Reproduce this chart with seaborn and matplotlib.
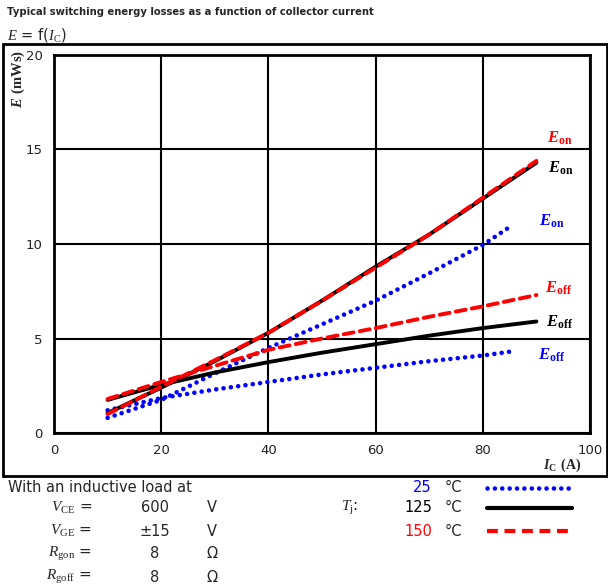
import matplotlib
matplotlib.use("Agg")
import matplotlib.pyplot as plt
from matplotlib.lines import Line2D
from matplotlib.patches import Rectangle
import seaborn as sns
import pandas as pd

# ---- data ----
ic_25 = [10, 20, 30, 40, 50, 60, 70, 80, 85]
eon_25 = [0.8, 1.75, 3.15, 4.5, 5.75, 7.0, 8.45, 9.95, 10.9]
eoff_25 = [1.2, 1.85, 2.3, 2.7, 3.1, 3.45, 3.8, 4.1, 4.3]

ic_125 = [10, 20, 30, 40, 50, 60, 70, 80, 90]
eon_125 = [1.05, 2.4, 3.8, 5.3, 7.0, 8.8, 10.5, 12.4, 14.3]
eoff_125 = [1.75, 2.55, 3.2, 3.75, 4.25, 4.7, 5.15, 5.55, 5.9]

ic_150 = [10, 20, 30, 40, 50, 60, 70, 80, 90]
eon_150 = [1.0, 2.45, 3.85, 5.3, 7.0, 8.75, 10.5, 12.45, 14.4]
eoff_150 = [1.8, 2.7, 3.55, 4.4, 5.0, 5.55, 6.15, 6.7, 7.3]

x_ticks = [0, 20, 40, 60, 80, 100]
y_ticks = [0, 5, 10, 15, 20]

sns.set_theme(style="white")
plt.rcParams["font.family"] = ["DejaVu Sans"]
plt.rcParams["mathtext.fontset"] = "custom"
plt.rcParams["mathtext.rm"] = "Liberation Serif"
plt.rcParams["mathtext.it"] = "Liberation Serif:italic"
plt.rcParams["mathtext.bf"] = "Liberation Serif:bold"
plt.rcParams["mathtext.bfit"] = "Liberation Serif:italic:bold"

W, H = 608, 588
fig = plt.figure(figsize=(W / 100, H / 100), dpi=100)


def fx(px):
    return px / W


def fy(py):
    return 1 - py / H


ax = fig.add_axes([fx(54), fy(433), fx(590) - fx(54), fy(55) - fy(433)])

blue, black, red = "#0000FF", "#000000", "#FF0000"
dot = (0, (0.01, 1.6))
dash = (0, (2.6, 1.6))

series = [
    (ic_25, eon_25, blue, dot, 3.3),
    (ic_25, eoff_25, blue, dot, 3.3),
    (ic_125, eon_125, black, "-", 2.8),
    (ic_125, eoff_125, black, "-", 2.8),
    (ic_150, eon_150, red, dash, 2.8),
    (ic_150, eoff_150, red, dash, 2.8),
]
for xs, ys, c, ls, lw in series:
    df = pd.DataFrame({"Ic": xs, "E": ys})
    sns.lineplot(data=df, x="Ic", y="E", ax=ax, color=c, linestyle=ls,
                 linewidth=lw, dash_capstyle="round", solid_capstyle="round")

ax.set_xlim(0, 100)
ax.set_ylim(0, 20)
ax.set_xticks(x_ticks)
ax.set_yticks(y_ticks)
ax.grid(True, color="black", linewidth=1.5)
ax.set_axisbelow(True)
for s in ax.spines.values():
    s.set_color("black")
    s.set_linewidth(2)
ax.tick_params(axis="both", labelsize=9.5, colors="#222222", length=0, pad=8)
ax.set_xlabel("")
ax.set_ylabel("")

# series labels
lab_fs = 12
ax_texts = [
    (547, 138, r"$\mathbfit{E}_\mathbf{on}$", red),
    (548, 168, r"$\mathbfit{E}_\mathbf{on}$", black),
    (539, 221, r"$\mathbfit{E}_\mathbf{on}$", blue),
    (545, 288, r"$\mathbfit{E}_\mathbf{off}$", red),
    (546, 322, r"$\mathbfit{E}_\mathbf{off}$", black),
    (538, 355, r"$\mathbfit{E}_\mathbf{off}$", blue),
]
for px, py, t, c in ax_texts:
    fig.text(fx(px), fy(py), t, color=c, fontsize=lab_fs, ha="left", va="center")

# outer frame
fig.add_artist(Rectangle((fx(3), fy(476)), fx(607) - fx(3), fy(44) - fy(476),
                         transform=fig.transFigure, fill=False,
                         edgecolor="black", linewidth=2))

# titles
fig.text(fx(7), fy(12), "Typical switching energy losses as a function of collector current",
         fontsize=7.2, fontweight="bold", ha="left", va="center")
fig.text(fx(7), fy(35), r"$E$ = f($I_\mathrm{C}$)", fontsize=10.5, ha="left", va="center")

# axis labels
fig.text(fx(18), fy(50), r"$\mathbfit{E}$ $\mathbf{(mWs)}$", fontsize=10.5,
         rotation=90, ha="center", va="top")
fig.text(fx(562), fy(465), r"$\mathbfit{I}_\mathbf{C}$ $\mathbf{(A)}$", fontsize=10,
         ha="center", va="center")

# conditions block
fig.text(fx(8), fy(488), "With an inductive load at", fontsize=10.5, ha="left", va="center")
rows = [
    (508, r"$V_\mathrm{CE}$ =", "600", "V"),
    (531, r"$V_\mathrm{GE}$ =", "±15", "V"),
    (554, r"$R_\mathrm{gon}$ =", "8", "Ω"),
    (577, r"$R_\mathrm{goff}$ =", "8", "Ω"),
]
for py, lab, val, unit in rows:
    fig.text(fx(92), fy(py), lab, fontsize=11, ha="right", va="center")
    fig.text(fx(155), fy(py), val, fontsize=10.5, ha="center", va="center")
    fig.text(fx(212), fy(py), unit, fontsize=10.5, ha="center", va="center")

fig.text(fx(350), fy(508), r"$T_\mathrm{j}$:", fontsize=11, ha="center", va="center")

legend_rows = [
    (488, "25", blue, dot, 3.3),
    (508, "125", black, "-", 3.0),
    (531, "150", red, dash, 3.0),
]
for py, t, c, ls, lw in legend_rows:
    fig.text(fx(432), fy(py), t, color=c, fontsize=10.5, ha="right", va="center")
    fig.text(fx(445), fy(py), "°C", fontsize=10.5, ha="left", va="center")
    fig.add_artist(Line2D([fx(487), fx(572)], [fy(py), fy(py)], transform=fig.transFigure,
                          color=c, linestyle=ls, linewidth=lw,
                          dash_capstyle="round" if ls == dot else "butt"))

fig.savefig("out.png", dpi=100)
